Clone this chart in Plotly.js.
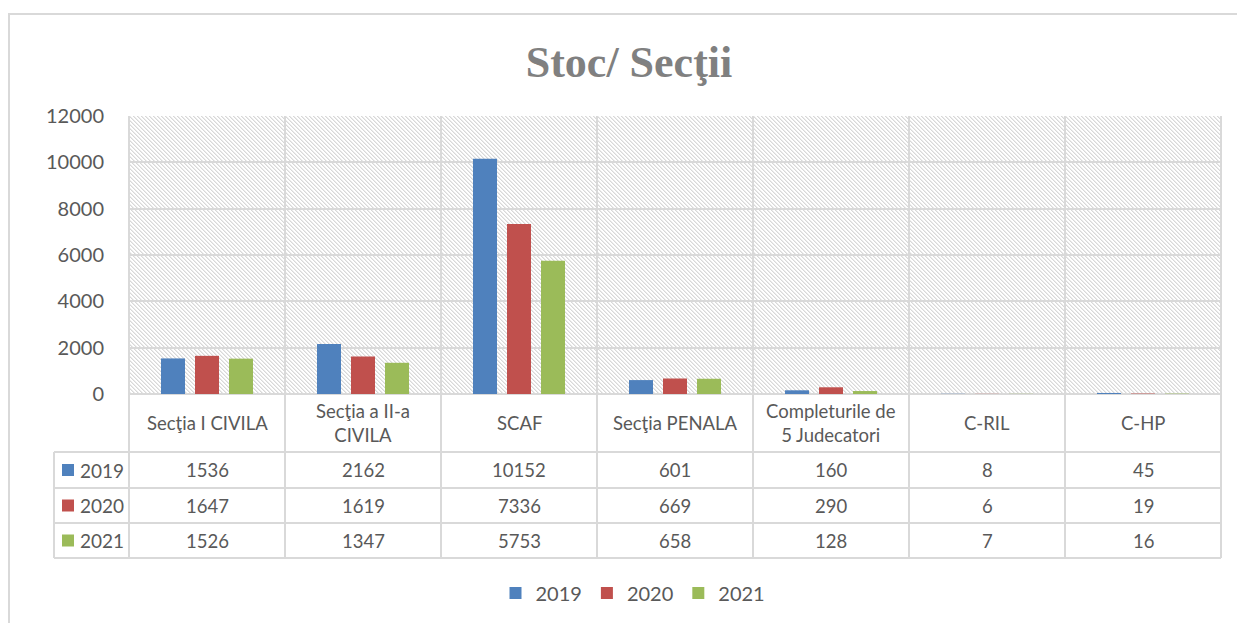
<!DOCTYPE html>
<html>
<head>
<meta charset="utf-8">
<script src="https://cdn.plot.ly/plotly-3.0.1.min.js"></script>
<style>
  html, body { margin: 0; padding: 0; background: #fff; }
  #wrap { position: relative; width: 1237px; height: 623px; overflow: hidden; }
  #frame { position: absolute; left: 8px; top: 13px; width: 1240px; height: 620px;
           border-top: 2px solid #d9d9d9; border-left: 2px solid #d9d9d9; }
  #hatch { position: absolute; left: 129px; top: 116px; width: 1092px; height: 278px;
           background-image: url("data:image/svg+xml;utf8,<svg xmlns='http://www.w3.org/2000/svg' width='4' height='4' shape-rendering='crispEdges'><rect x='0' y='0' width='1' height='1' fill='%23d8d8d8'/><rect x='1' y='1' width='1' height='1' fill='%23d8d8d8'/><rect x='2' y='2' width='1' height='1' fill='%23d8d8d8'/><rect x='3' y='3' width='1' height='1' fill='%23d8d8d8'/><rect x='1' y='0' width='1' height='1' fill='%23ebebeb'/><rect x='2' y='1' width='1' height='1' fill='%23ebebeb'/><rect x='3' y='2' width='1' height='1' fill='%23ebebeb'/><rect x='0' y='3' width='1' height='1' fill='%23ebebeb'/></svg>");
           background-repeat: repeat; background-size: 4px 4px; }
  #chart { position: absolute; left: 0; top: 0; width: 1237px; height: 623px; }
</style>
</head>
<body>
<div id="wrap">
  <div id="frame"></div>
  <div id="hatch"></div>
  <div id="chart"></div>
</div>
<script>
const categories = ["Secţia I CIVILA", "Secţia a II-a CIVILA", "SCAF", "Secţia PENALA", "Completurile de 5 Judecatori", "C-RIL", "C-HP"];
const headerLabels = ["Secţia I CIVILA", "Secţia a II-a<br>CIVILA", "SCAF", "Secţia PENALA", "Completurile de<br>5 Judecatori", "C-RIL", "C-HP"];
const years = ["2019", "2020", "2021"];
const values2019 = [1536, 2162, 10152, 601, 160, 8, 45];
const values2020 = [1647, 1619, 7336, 669, 290, 6, 19];
const values2021 = [1526, 1347, 5753, 658, 128, 7, 16];
const yTicks = [0, 2000, 4000, 6000, 8000, 10000, 12000];
const seriesValues = [values2019, values2020, values2021];
const seriesColors = ["#4F81BD", "#C0504D", "#9BBB59"];

const FONT = "Lato, Calibri, 'Open Sans', sans-serif";
const TXT = "#595959";
const LINE = "#d9d9d9";

// pixel -> paper helpers (plot area 129..1221 x, 116..394 y)
const PL = 129, PR = 1221, PT = 116, PB = 394;
const px = v => (v - PL) / (PR - PL);
const py = v => (PB - v) / (PB - PT);

const traces = years.map((yr, i) => ({
  type: "bar",
  name: yr,
  x: categories,
  y: seriesValues[i],
  marker: { color: seriesColors[i] },
  hoverinfo: "x+y+name"
}));

const shapes = [];
const annotations = [];
const tableBottom = py(558);
const rowLines = [py(452), py(488), py(523), py(558)];
const rowCenters = [py(470), py(505.5), py(540.5)];

for (let i = 0; i <= categories.length; i++) {
  shapes.push({ type: "line", xref: "paper", yref: "paper", x0: i / categories.length, x1: i / categories.length,
    y0: 1, y1: tableBottom, line: { color: LINE, width: 2 }, layer: "below" });
}
shapes.push({ type: "line", xref: "paper", yref: "paper", x0: 0, x1: 1, y0: 0, y1: 0, line: { color: LINE, width: 2 }, layer: "below" });
rowLines.forEach(y => shapes.push({ type: "line", xref: "paper", yref: "paper", x0: px(54), x1: 1, y0: y, y1: y, line: { color: LINE, width: 2 } }));
shapes.push({ type: "line", xref: "paper", yref: "paper", x0: px(54), x1: px(54), y0: rowLines[0], y1: tableBottom, line: { color: LINE, width: 2 } });

categories.forEach((c, j) => {
  annotations.push({ xref: "x", yref: "paper", x: c, y: py(423), text: headerLabels[j], showarrow: false,
    font: { family: FONT, size: 18.5, color: TXT }, xanchor: "center", yanchor: "middle" });
});
years.forEach((yr, i) => {
  const cy = rowCenters[i];
  shapes.push({ type: "rect", xref: "paper", yref: "paper", x0: px(62), x1: px(74),
    y0: cy - 6 / (PB - PT), y1: cy + 6 / (PB - PT), fillcolor: seriesColors[i], line: { width: 0 } });
  annotations.push({ xref: "paper", yref: "paper", x: px(78), y: cy, text: yr, showarrow: false,
    font: { family: FONT, size: 19, color: TXT }, xanchor: "left", yanchor: "middle" });
  categories.forEach((c, j) => {
    annotations.push({ xref: "x", yref: "paper", x: c, y: cy, text: String(seriesValues[i][j]), showarrow: false,
      font: { family: FONT, size: 18.5, color: TXT }, xanchor: "center", yanchor: "middle" });
  });
});

const layout = {
  width: 1237, height: 623,
  autosize: false,
  margin: { l: PL, r: 1237 - PR, t: PT, b: 623 - PB, pad: 0, autoexpand: false },
  paper_bgcolor: "rgba(0,0,0,0)",
  plot_bgcolor: "rgba(0,0,0,0)",
  title: { text: "<b>Stoc/ Secţii</b>", x: 629 / 1237, xanchor: "center", xref: "container",
    y: 1 - 62 / 623, yanchor: "middle", yref: "container", automargin: false,
    font: { family: "'Liberation Serif', 'DejaVu Serif', serif", size: 44, color: "#808080" } },
  barmode: "group",
  bargap: 0.346,
  bargroupgap: 0.294,
  showlegend: true,
  legend: { orientation: "h", x: px(633), xref: "paper", xanchor: "center", y: py(593), yref: "paper", yanchor: "middle",
    font: { family: FONT, size: 20, color: TXT }, traceorder: "normal", itemwidth: 30 },
  xaxis: { type: "category", categoryorder: "array", categoryarray: categories, showticklabels: false, automargin: false,
    showgrid: false, zeroline: false, showline: false, ticks: "", fixedrange: true },
  yaxis: { range: [0, 12000], tickvals: yTicks, ticktext: yTicks.map(String), showgrid: true, gridcolor: LINE, gridwidth: 2,
    automargin: false, zeroline: false, showline: false, ticks: "outside", ticklen: 20, tickcolor: "rgba(0,0,0,0)",
    tickfont: { family: FONT, size: 20, color: TXT }, fixedrange: true },
  shapes: shapes,
  annotations: annotations
};

Plotly.newPlot("chart", traces, layout, { displayModeBar: false, staticPlot: true });
</script>
</body>
</html>
